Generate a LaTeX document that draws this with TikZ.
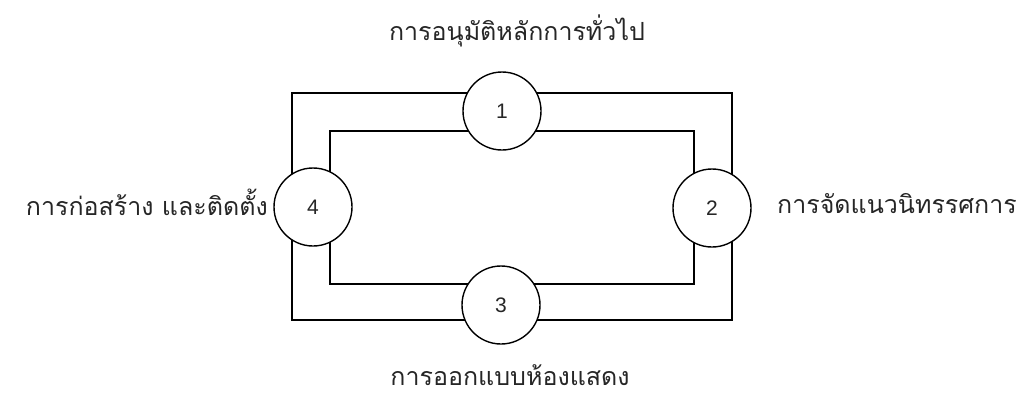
\documentclass[tikz,border=0pt]{standalone}
\usepackage{fontspec}
\newfontfamily\thaifont[Script=Thai]{Loma}
\newfontfamily\numfont{Liberation Sans}
\begin{document}
\begin{tikzpicture}[x=1pt,y=-1pt,
  ring/.style={circle,draw,line width=1.4pt,fill=white,minimum size=78pt,inner sep=0pt,text=black!85,font=\numfont\fontsize{21}{21}\selectfont},
  lbl/.style={font=\thaifont\fontsize{25}{28}\selectfont,text=black!85,inner sep=0pt,anchor=base},
  wire/.style={line width=1.4pt}]
\useasboundingbox (0,0) rectangle (1033,407);
\coordinate (o1) at (292,93);
\coordinate (o2) at (732,320);
\coordinate (i1) at (330,131);
\coordinate (i2) at (694,284);
\draw[wire] (o1) rectangle (o2);
\draw[wire] (i1) rectangle (i2);
\node[ring] (n1) at (502,111) {1};
\node[ring] (n2) at (712,208) {2};
\node[ring] (n3) at (501,305) {3};
\node[ring] (n4) at (313,207) {4};
\node[lbl] (t1) at (517,40) {การอนุมัติหลักการทั่วไป};
\node[lbl,anchor=base east] (t4) at (268,215) {การก่อสร้าง และติดตั้ง};
\node[lbl,anchor=base west] (t2) at (777,213) {การจัดแนวนิทรรศการ};
\node[lbl] (t3) at (510,385) {การออกแบบห้องแสดง};
\end{tikzpicture}
\end{document}
